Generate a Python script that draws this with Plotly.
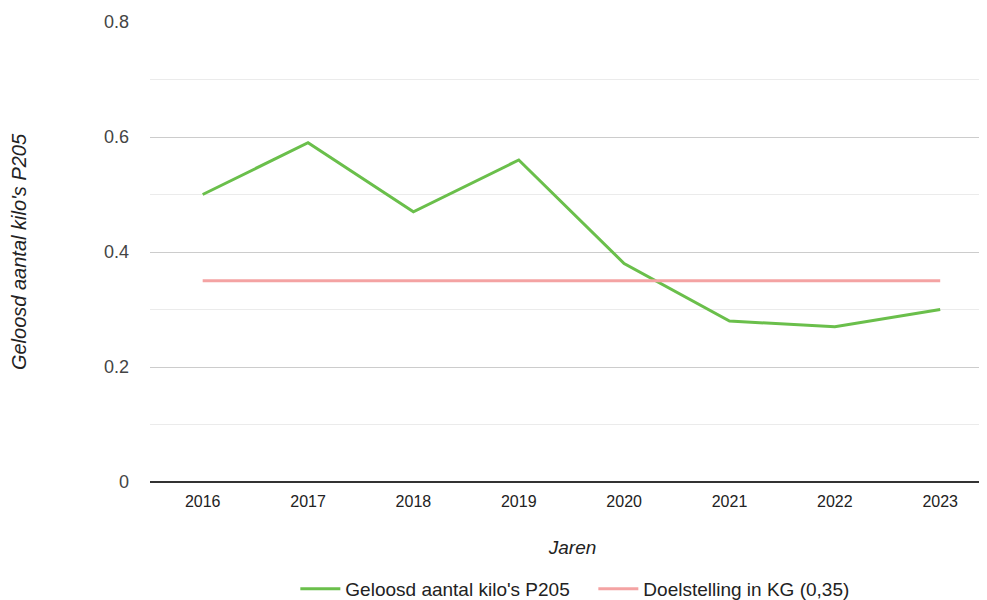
import plotly.graph_objects as go

years = ["2016", "2017", "2018", "2019", "2020", "2021", "2022", "2023"]
geloosd = [0.50, 0.59, 0.47, 0.56, 0.38, 0.28, 0.27, 0.30]
doel = [0.35] * 8

FONT = "Liberation Sans, Arial, sans-serif"

fig = go.Figure()
fig.add_trace(go.Scatter(x=years, y=geloosd, mode="lines", name="Geloosd aantal kilo's P205",
                         line=dict(color="#6abf4b", width=3)))
fig.add_trace(go.Scatter(x=years, y=doel, mode="lines", name="Doelstelling in KG (0,35)",
                         line=dict(color="#f4a3a3", width=3)))

fig.update_layout(
    width=987, height=600,
    margin=dict(l=142, r=0, t=14, b=125),
    paper_bgcolor="white", plot_bgcolor="white",
    font=dict(family=FONT, color="#222"),
    showlegend=True,
    legend=dict(orientation="h", x=0.172, xanchor="left", y=-0.232, yanchor="middle",
                font=dict(size=19, color="#222"), itemwidth=40,
                entrywidth=243, entrywidthmode="pixels"),
    xaxis=dict(type="category", range=[-0.5, 7.52], showgrid=False, showline=False,
               tickfont=dict(size=16, color="#222"), ticks="", ticklabelstandoff=8,
               title=dict(text="<i>Jaren</i>", font=dict(size=19, color="#222"), standoff=31)),
    yaxis=dict(range=[0, 0.8], dtick=0.2, tickformat="~g", showgrid=True, gridcolor="#cccccc",
               gridwidth=1, zeroline=True, zerolinecolor="#333333", zerolinewidth=2,
               tickfont=dict(size=18, color="#444"), ticklabelstandoff=20,
               minor=dict(dtick=0.1, showgrid=True, gridcolor="#ebebeb", gridwidth=1),
               title=dict(text="<i>Geloosd aantal kilo's P205</i>", font=dict(size=20, color="#222"),
                          standoff=72)),
)

fig.write_html("out.html")
